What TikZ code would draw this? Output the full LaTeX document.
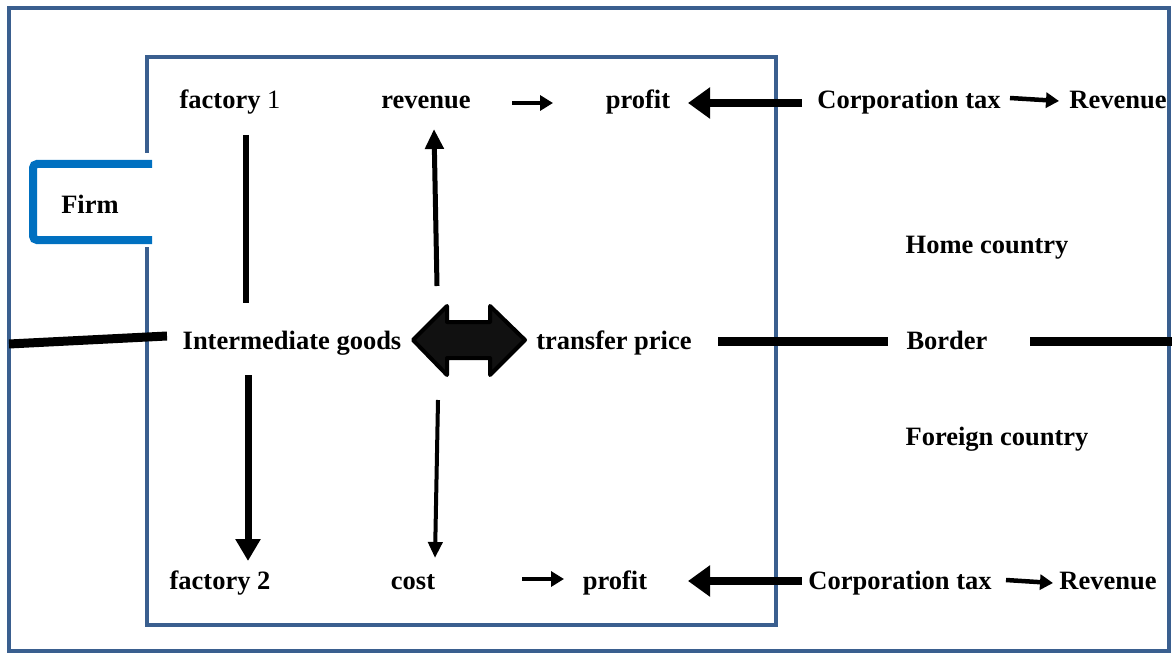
\documentclass[tikz,border=0pt]{standalone}
\usepackage{fontspec}
\setmainfont{Liberation Serif}
\usetikzlibrary{arrows.meta}
\definecolor{boxblue}{HTML}{3A5F8F}
\definecolor{firmblue}{HTML}{0070C0}
\definecolor{arrowblack}{HTML}{111111}
\begin{document}
\begin{tikzpicture}[x=1pt,y=-1pt,
  lbl/.style={inner sep=0pt,font=\fontsize{26.5}{31}\bfseries\selectfont,text height=18pt,text depth=5pt},
  smallarr/.style={line width=4.5pt,-{Triangle[length=13pt,width=15pt]}},
  bigarr/.style={line width=8pt,-{Triangle[length=22pt,width=30pt]}},
  vline/.style={line width=6pt},
  thickline/.style={line width=9pt}]
\useasboundingbox (0,0) rectangle (1172,655);
% outer frame
\draw[boxblue,line width=3.5pt] (9,8) rectangle (1169,651);
% inner box with gap for firm tab
\draw[boxblue,line width=4pt] (147,153) -- (147,57) -- (776,57) -- (776,625) -- (147,625) -- (147,247);
% firm tab
\draw[firmblue,line width=8pt,rounded corners=4pt] (152,164) -- (33,164) -- (33,240) -- (152,240);
\node[lbl] (firm) at (90,207) {Firm};
% top row
\node[lbl] (f1) at (230,102) {factory {\mdseries 1}};
\node[lbl] (rev) at (426,102) {revenue};
\node[lbl] (pr1) at (638,102) {profit};
\node[lbl] (ct1) at (909,102) {Corporation tax};
\node[lbl] (R1) at (1118,102) {Revenue};
% middle row
\node[lbl] (ig) at (292,343) {Intermediate goods};
\node[lbl] (tp) at (614,343) {transfer price};
\node[lbl] (bd) at (947,343) {Border};
\node[lbl] (home) at (987,247) {Home country};
\node[lbl] (foreign) at (997,439) {Foreign country};
% bottom row
\node[lbl] (f2) at (220,583) {factory 2};
\node[lbl] (cost) at (413,583) {cost};
\node[lbl] (pr2) at (615,583) {profit};
\node[lbl] (ct2) at (900,583) {Corporation tax};
\node[lbl] (R2) at (1108,583) {Revenue};
% connector coordinates
\coordinate (a1s) at (512,103); \coordinate (a1e) at (553,103);
\coordinate (b1s) at (802,103); \coordinate (b1e) at (688,103);
\coordinate (c1s) at (1010,98); \coordinate (c1e) at (1059,101);
\coordinate (v1s) at (246,135); \coordinate (v1e) at (246,303);
\coordinate (u1s) at (437,286); \coordinate (u1e) at (434,129);
\coordinate (l1s) at (9,344); \coordinate (l1e) at (167,336);
\coordinate (bl1s) at (718,341); \coordinate (bl1e) at (888,341);
\coordinate (bl2s) at (1030,341); \coordinate (bl2e) at (1172,341);
\coordinate (d1s) at (248,375); \coordinate (d1e) at (248,561);
\coordinate (d2s) at (438,400); \coordinate (d2e) at (435,558);
\coordinate (a2s) at (522,579); \coordinate (a2e) at (564,579);
\coordinate (b2s) at (802,581); \coordinate (b2e) at (688,581);
\coordinate (c2s) at (1006,580); \coordinate (c2e) at (1053,583);
% connectors
\draw[smallarr] (a1s) -- (a1e);
\draw[bigarr] (b1s) -- (b1e);
\draw[smallarr] (c1s) -- (c1e);
\draw[vline] (v1s) -- (v1e);
\draw[line width=5pt,-{Triangle[length=20pt,width=18pt]}] (u1s) -- (u1e);
\draw[thickline] (l1s) -- (l1e);
\draw[thickline] (bl1s) -- (bl1e);
\draw[thickline] (bl2s) -- (bl2e);
\draw[line width=7pt,-{Triangle[length=22pt,width=24pt]}] (d1s) -- (d1e);
\draw[line width=4pt,-{Triangle[length=16pt,width=14pt]}] (d2s) -- (d2e);
\draw[smallarr] (a2s) -- (a2e);
\draw[bigarr] (b2s) -- (b2e);
\draw[smallarr] (c2s) -- (c2e);
% double arrow
\draw[fill=arrowblack,draw=black,line width=4pt,line join=round]
  (413,340) -- (447,306) -- (447,322) -- (490,322) -- (490,306) -- (525,340)
  -- (490,375) -- (490,358) -- (447,358) -- (447,375) -- cycle;
\end{tikzpicture}
\end{document}
